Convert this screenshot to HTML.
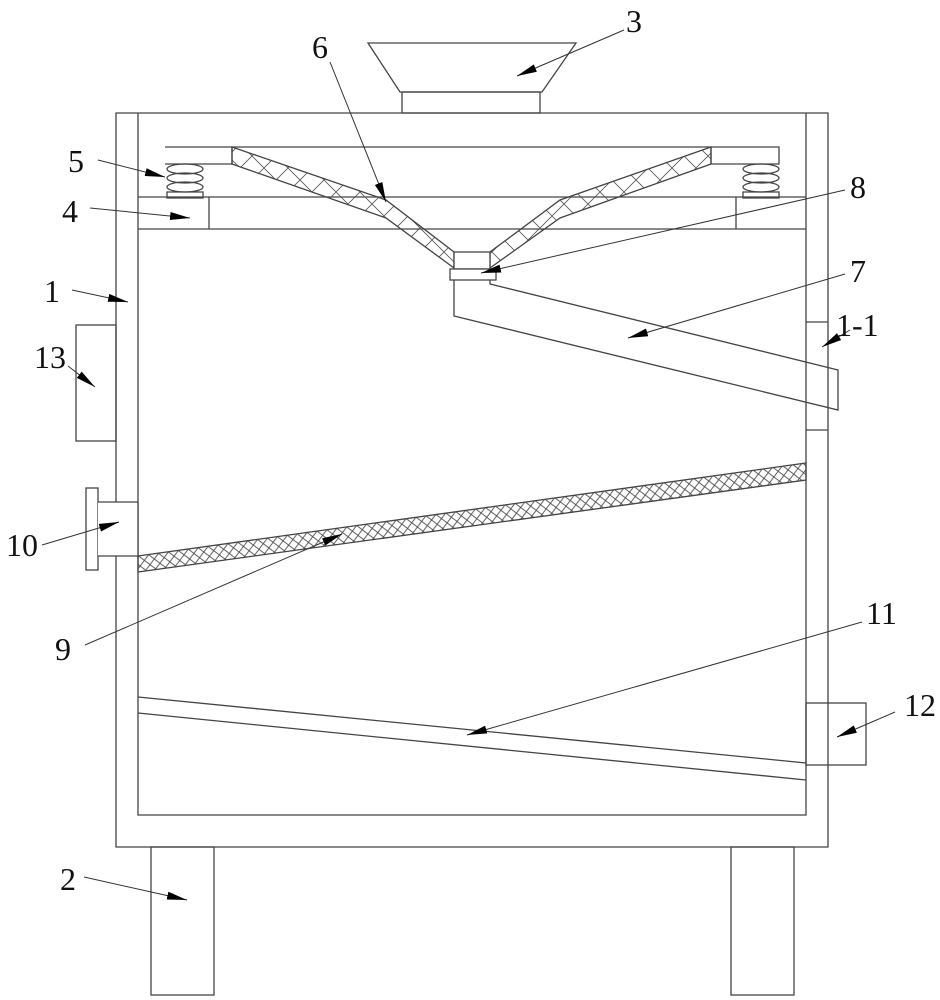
<!DOCTYPE html>
<html><head><meta charset="utf-8"><style>
html,body{margin:0;padding:0;background:#fff;}
svg{display:block;}
text{font-family:"Liberation Serif",serif;font-size:32px;fill:#111;}
</style></head><body>
<svg width="940" height="1000" viewBox="0 0 940 1000" xmlns="http://www.w3.org/2000/svg">
<defs>
<pattern id="x1" width="10" height="10" patternUnits="userSpaceOnUse" patternTransform="rotate(-8)">
<path d="M0 0L10 10M10 0L0 10" stroke="#444" stroke-width="0.8"/>
</pattern>
<pattern id="x2" width="24" height="24" patternUnits="userSpaceOnUse">
<path d="M0 0L24 24M24 0L0 24" stroke="#555" stroke-width="0.8"/>
</pattern>
<marker id="ah" viewBox="0 0 20 8" refX="20" refY="4" markerWidth="20" markerHeight="8" markerUnits="userSpaceOnUse" orient="auto">
<path d="M0 0L20 4L0 8z" fill="#000"/>
</marker>
</defs>
<g fill="none" stroke="#444" stroke-width="1.3">
<!-- hopper -->
<path d="M368 43H576L542 92H400Z"/>
<rect x="402" y="92" width="138" height="21"/>
<!-- body -->
<path d="M116 113H828V847H116Z"/>
<path d="M138 113V815H806V113"/>
<!-- legs -->
<rect x="151" y="847" width="63" height="148"/>
<rect x="731" y="847" width="63" height="148"/>
<!-- frame 4 -->
<path d="M138 197H806M138 229H806M209 197V229M736 197V229"/>
<!-- top plate -->
<path d="M165 147H779V164H711M232 164H165Z"/>
<path d="M711 147V164M232 147V164"/>
<!-- springs -->
<g>
<ellipse cx="185" cy="169" rx="18" ry="5"/><ellipse cx="185" cy="178" rx="18" ry="5"/><ellipse cx="185" cy="187" rx="18" ry="5"/>
<path d="M167 192H203V198H167Z"/>
<ellipse cx="761" cy="169" rx="18" ry="5"/><ellipse cx="761" cy="178" rx="18" ry="5"/><ellipse cx="761" cy="187" rx="18" ry="5"/>
<path d="M743 192H779V198H743Z"/>
</g>
<!-- funnel hatched -->
<path d="M232 147L386 200L454 252V268L386 218L232 164Z" fill="url(#x2)"/>
<path d="M711 147L560 200L490 252V268L560 218L711 164Z" fill="url(#x2)"/>
<rect x="454" y="252" width="36" height="17" fill="#fff"/>
<rect x="450" y="269" width="46" height="11" fill="#fff"/>
<!-- pipe 7 -->
<path d="M454 280V316L838 410V370L490 284V280"/>
<!-- window 1-1 -->
<path d="M806 322H828M806 430H828"/>
<!-- 13 -->
<rect x="76" y="325" width="40" height="116"/>
<!-- 10 -->
<rect x="86" y="488" width="12" height="82"/>
<path d="M98 502H138V556H98" fill="#fff"/>
<!-- screen 9 -->
<path d="M138 556L806 463V480L138 572Z" fill="url(#x1)"/>
<!-- plate 11 -->
<path d="M138 697L806 763M138 713L806 780"/>
<!-- 12 -->
<rect x="806" y="703" width="60" height="62"/>
</g>
<!-- leaders -->
<g stroke="#333" stroke-width="1" fill="none" marker-end="url(#ah)">
<path d="M624 30L517 76"/>
<path d="M330 62L386 202"/>
<path d="M98 160L165 177"/>
<path d="M90 208L190 218"/>
<path d="M845 190L481 273"/>
<path d="M72 290L128 302"/>
<path d="M845 274L628 338"/>
<path d="M850 330L822 347"/>
<path d="M68 366L95 387"/>
<path d="M42 545L119 522"/>
<path d="M85 645L342 534"/>
<path d="M862 622L467 735"/>
<path d="M895 712L837 737"/>
<path d="M84 877L187 900"/>
</g>
<g>
<text x="626" y="32">3</text>
<text x="312" y="58">6</text>
<text x="68" y="172">5</text>
<text x="62" y="222">4</text>
<text x="850" y="198">8</text>
<text x="44" y="302">1</text>
<text x="850" y="282">7</text>
<text x="836" y="336">1-1</text>
<text x="34" y="368">13</text>
<text x="6" y="556">10</text>
<text x="55" y="660">9</text>
<text x="866" y="624">11</text>
<text x="904" y="716">12</text>
<text x="60" y="890">2</text>
</g>
</svg>
</body></html>
